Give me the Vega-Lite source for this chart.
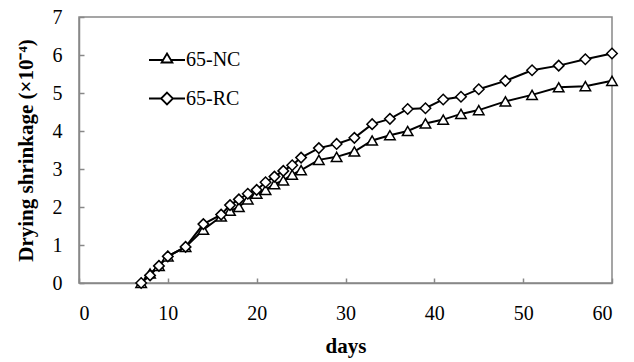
{
  "$schema": "https://vega.github.io/schema/vega-lite/v6.json",
  "autosize": "none",
  "width": 533,
  "height": 266,
  "padding": {"left": 79, "top": 17, "right": 22, "bottom": 79},
  "background": "white",
  "config": {
    "font": "Liberation Serif",
    "view": {"stroke": "#888888", "strokeWidth": 1.5},
    "axis": {"grid": false, "domainColor": "#888888", "domainWidth": 1.5, "tickColor": "#888888", "tickWidth": 1.5, "labelColor": "black", "titleColor": "black"},
    "legend": {"labelFont": "Liberation Serif", "labelFontSize": 20, "labelColor": "black"}
  },
  "data": {"values": [
    {"day": 7, "series": "65-NC", "v": 0},
    {"day": 8, "series": "65-NC", "v": 0.25},
    {"day": 9, "series": "65-NC", "v": 0.45},
    {"day": 10, "series": "65-NC", "v": 0.7},
    {"day": 12, "series": "65-NC", "v": 0.95},
    {"day": 14, "series": "65-NC", "v": 1.4},
    {"day": 16, "series": "65-NC", "v": 1.75},
    {"day": 17, "series": "65-NC", "v": 1.9},
    {"day": 18, "series": "65-NC", "v": 2.0},
    {"day": 19, "series": "65-NC", "v": 2.2},
    {"day": 20, "series": "65-NC", "v": 2.35},
    {"day": 21, "series": "65-NC", "v": 2.45},
    {"day": 22, "series": "65-NC", "v": 2.6},
    {"day": 23, "series": "65-NC", "v": 2.7},
    {"day": 24, "series": "65-NC", "v": 2.85},
    {"day": 25, "series": "65-NC", "v": 2.97},
    {"day": 27, "series": "65-NC", "v": 3.24},
    {"day": 29, "series": "65-NC", "v": 3.32},
    {"day": 31, "series": "65-NC", "v": 3.46},
    {"day": 33, "series": "65-NC", "v": 3.75},
    {"day": 35, "series": "65-NC", "v": 3.89},
    {"day": 37, "series": "65-NC", "v": 4.0},
    {"day": 39, "series": "65-NC", "v": 4.2},
    {"day": 41, "series": "65-NC", "v": 4.3},
    {"day": 43, "series": "65-NC", "v": 4.45},
    {"day": 45, "series": "65-NC", "v": 4.55},
    {"day": 48, "series": "65-NC", "v": 4.78},
    {"day": 51, "series": "65-NC", "v": 4.95},
    {"day": 54, "series": "65-NC", "v": 5.15},
    {"day": 57, "series": "65-NC", "v": 5.18},
    {"day": 60, "series": "65-NC", "v": 5.32},
    {"day": 7, "series": "65-RC", "v": 0},
    {"day": 8, "series": "65-RC", "v": 0.2},
    {"day": 9, "series": "65-RC", "v": 0.45},
    {"day": 10, "series": "65-RC", "v": 0.7},
    {"day": 12, "series": "65-RC", "v": 0.95},
    {"day": 14, "series": "65-RC", "v": 1.55},
    {"day": 16, "series": "65-RC", "v": 1.8},
    {"day": 17, "series": "65-RC", "v": 2.05},
    {"day": 18, "series": "65-RC", "v": 2.2},
    {"day": 19, "series": "65-RC", "v": 2.35},
    {"day": 20, "series": "65-RC", "v": 2.45},
    {"day": 21, "series": "65-RC", "v": 2.65},
    {"day": 22, "series": "65-RC", "v": 2.8},
    {"day": 23, "series": "65-RC", "v": 2.95},
    {"day": 24, "series": "65-RC", "v": 3.1},
    {"day": 25, "series": "65-RC", "v": 3.3},
    {"day": 27, "series": "65-RC", "v": 3.55},
    {"day": 29, "series": "65-RC", "v": 3.66},
    {"day": 31, "series": "65-RC", "v": 3.82},
    {"day": 33, "series": "65-RC", "v": 4.18},
    {"day": 35, "series": "65-RC", "v": 4.32},
    {"day": 37, "series": "65-RC", "v": 4.58},
    {"day": 39, "series": "65-RC", "v": 4.6},
    {"day": 41, "series": "65-RC", "v": 4.83},
    {"day": 43, "series": "65-RC", "v": 4.9},
    {"day": 45, "series": "65-RC", "v": 5.1},
    {"day": 48, "series": "65-RC", "v": 5.32},
    {"day": 51, "series": "65-RC", "v": 5.6},
    {"day": 54, "series": "65-RC", "v": 5.72},
    {"day": 57, "series": "65-RC", "v": 5.89},
    {"day": 60, "series": "65-RC", "v": 6.04}
  ]},
  "encoding": {
    "x": {"field": "day", "type": "quantitative", "scale": {"domain": [0, 60], "nice": false},
      "axis": {"values": [0, 10, 20, 30, 40, 50, 60], "title": "days", "tickSize": -5, "labelPadding": 25, "labelFont": "Liberation Serif", "titleFont": "Liberation Serif", "labelFontSize": 20, "titleFontSize": 21, "titleFontWeight": "bold", "titlePadding": 12}},
    "y": {"field": "v", "type": "quantitative", "scale": {"domain": [0, 7], "nice": false},
      "axis": {"values": [0, 1, 2, 3, 4, 5, 6, 7], "title": "Drying shrinkage (×10⁻⁴)", "tickSize": -5, "labelPadding": 22, "labelFont": "Liberation Serif", "titleFont": "Liberation Serif", "labelFontSize": 20, "titleFontSize": 21, "titleFontWeight": "bold", "titlePadding": 16}}
  },
  "layer": [
    {
      "mark": {"type": "line", "color": "black", "strokeWidth": 2},
      "encoding": {"detail": {"field": "series"}}
    },
    {
      "mark": {"type": "point", "filled": false, "color": "black", "fill": "white", "strokeWidth": 1.5, "size": 110, "opacity": 1},
      "encoding": {
        "shape": {"field": "series", "type": "nominal",
          "scale": {"domain": ["65-NC", "65-RC"], "range": ["triangle-up", "diamond"]},
          "legend": null}
      }
    },
    {
      "mark": {"type": "point", "filled": false, "color": "black", "fill": "white", "strokeWidth": 1.5, "size": 0, "opacity": 0},
      "encoding": {
        "shape": {"field": "series", "type": "nominal",
          "scale": {"domain": ["65-NC", "65-RC"], "range": ["M-1,0L-0.216,0M0.216,0L1,0M0,-0.36L0.3,0.14L-0.3,0.14Z", "M-1,0L-0.33,0M0.33,0L1,0M0,-0.33L0.33,0L0,0.33L-0.33,0Z"]},
          "legend": {
            "title": null, "orient": "none", "legendX": 69, "legendY": 24, "padding": 0,
            "symbolSize": 1296, "symbolStrokeWidth": 1.8, "symbolOpacity": 1,
            "labelOffset": 0, "rowPadding": 9.5
          }}
      }
    }
  ],
  "resolve": {"scale": {"shape": "independent"}, "legend": {"shape": "independent"}}
}
